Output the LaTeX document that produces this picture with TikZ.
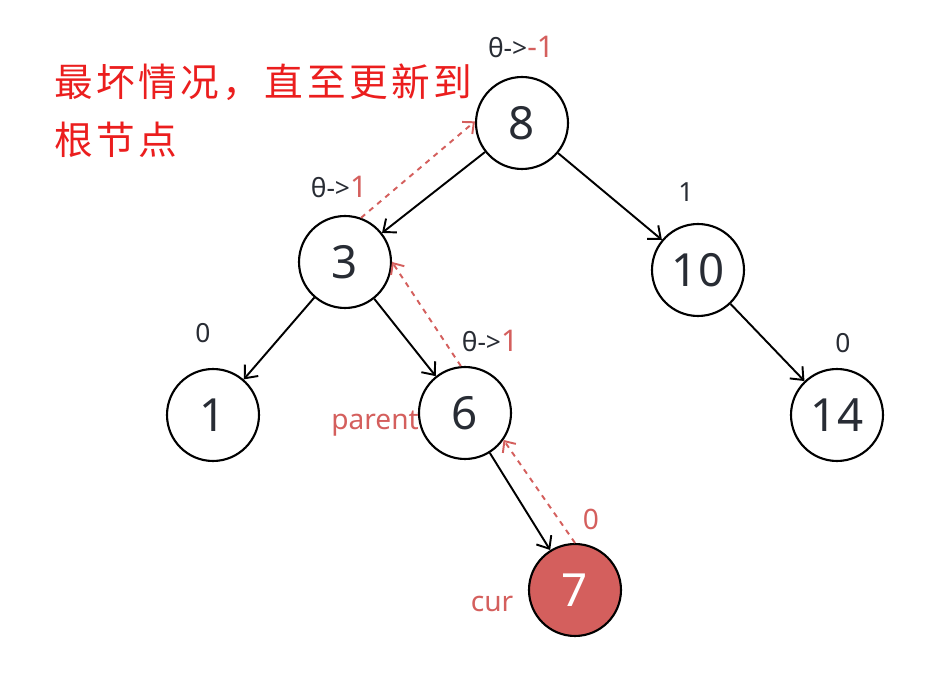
\documentclass[tikz,border=0pt]{standalone}
\usepackage{fontspec}
\setmainfont{Noto Sans}
\newfontfamily\cjk[LetterSpace=9]{Noto Sans CJK SC}
\usetikzlibrary{arrows.meta,positioning,calc}
\definecolor{markred}{RGB}{212,95,93}
\definecolor{notered}{RGB}{235,30,30}
\definecolor{inkgray}{RGB}{40,44,52}

\begin{document}
\begin{tikzpicture}[
    x=0.02cm, y=-0.02cm,
    treenode/.style={circle, draw, line width=1.2pt, minimum size=1.84cm, inner sep=0pt, font=\fontsize{26}{26}\selectfont, text=inkgray},
    curnode/.style={treenode, fill=markred, text=white},
    arrow/.style={-{Straight Barb[length=6pt,width=10pt]}, line width=1.1pt},
    back/.style={-{Straight Barb[length=5pt,width=9pt]}, dashed, markred, line width=1.1pt},
    bal/.style={font=\fontsize{15}{15}\selectfont, text=inkgray, inner sep=1pt},
    redlabel/.style={font=\fontsize{16}{16}\selectfont, text=markred, inner sep=1pt},
    note/.style={font=\cjk\fontsize{22}{22}\selectfont, text=notered, anchor=west, inner sep=0pt}
]
    \useasboundingbox (0,0) rectangle (937,678);

    % Remark
    \node[note] (line1) at (54,82) {最坏情况，直至更新到};
    \node[note] (line2) at (54,140) {根节点};

    % Tree
    \node[treenode] (n8) at (522,123) {8};
    \node[treenode] (n3) at (345,262) {3};
    \node[treenode] (n10) at (698,270) {10};
    \node[treenode] (n1) at (213,415) {1};
    \node[treenode] (n6) at (465,413) {6};
    \node[treenode] (n14) at (837,415) {14};
    \node[curnode] (n7) at (575,590) {7};

    % Balance factors
    \node[bal] (b8) at (521,47) {θ->\textcolor{markred}{\fontsize{17}{17}\selectfont-1}};
    \node[bal] (b3) at (339,187) {θ->\textcolor{markred}{\fontsize{17}{17}\selectfont 1}};
    \node[bal] (b10) at (686,192) {1};
    \node[bal] (b1) at (203,333) {0};
    \node[bal] (b6) at (490,341) {θ->\textcolor{markred}{\fontsize{17}{17}\selectfont 1}};
    \node[bal] (b14) at (843,343) {0};
    \node[redlabel] (b7) at (591,519) {0};

    % Pointers
    \node[redlabel] (parent) at (375,424) {parent};
    \node[redlabel] (cur) at (492,604) {cur};

    % Edges
    \draw[arrow] (n8) -- (n3);
    \draw[arrow] (n8) -- (n10);
    \draw[arrow] (n3) -- (n1);
    \draw[arrow] (n3) -- (n6);
    \draw[arrow] (n10) -- (n14);
    \draw[arrow] (n6) -- (n7);

    % Update path
    \draw[back] (n7.north) -- (n6.-35);
    \draw[back] (n6.95) -- (n3.east);
    \draw[back] (n3.70) -- (n8.178);
\end{tikzpicture}
\end{document}
